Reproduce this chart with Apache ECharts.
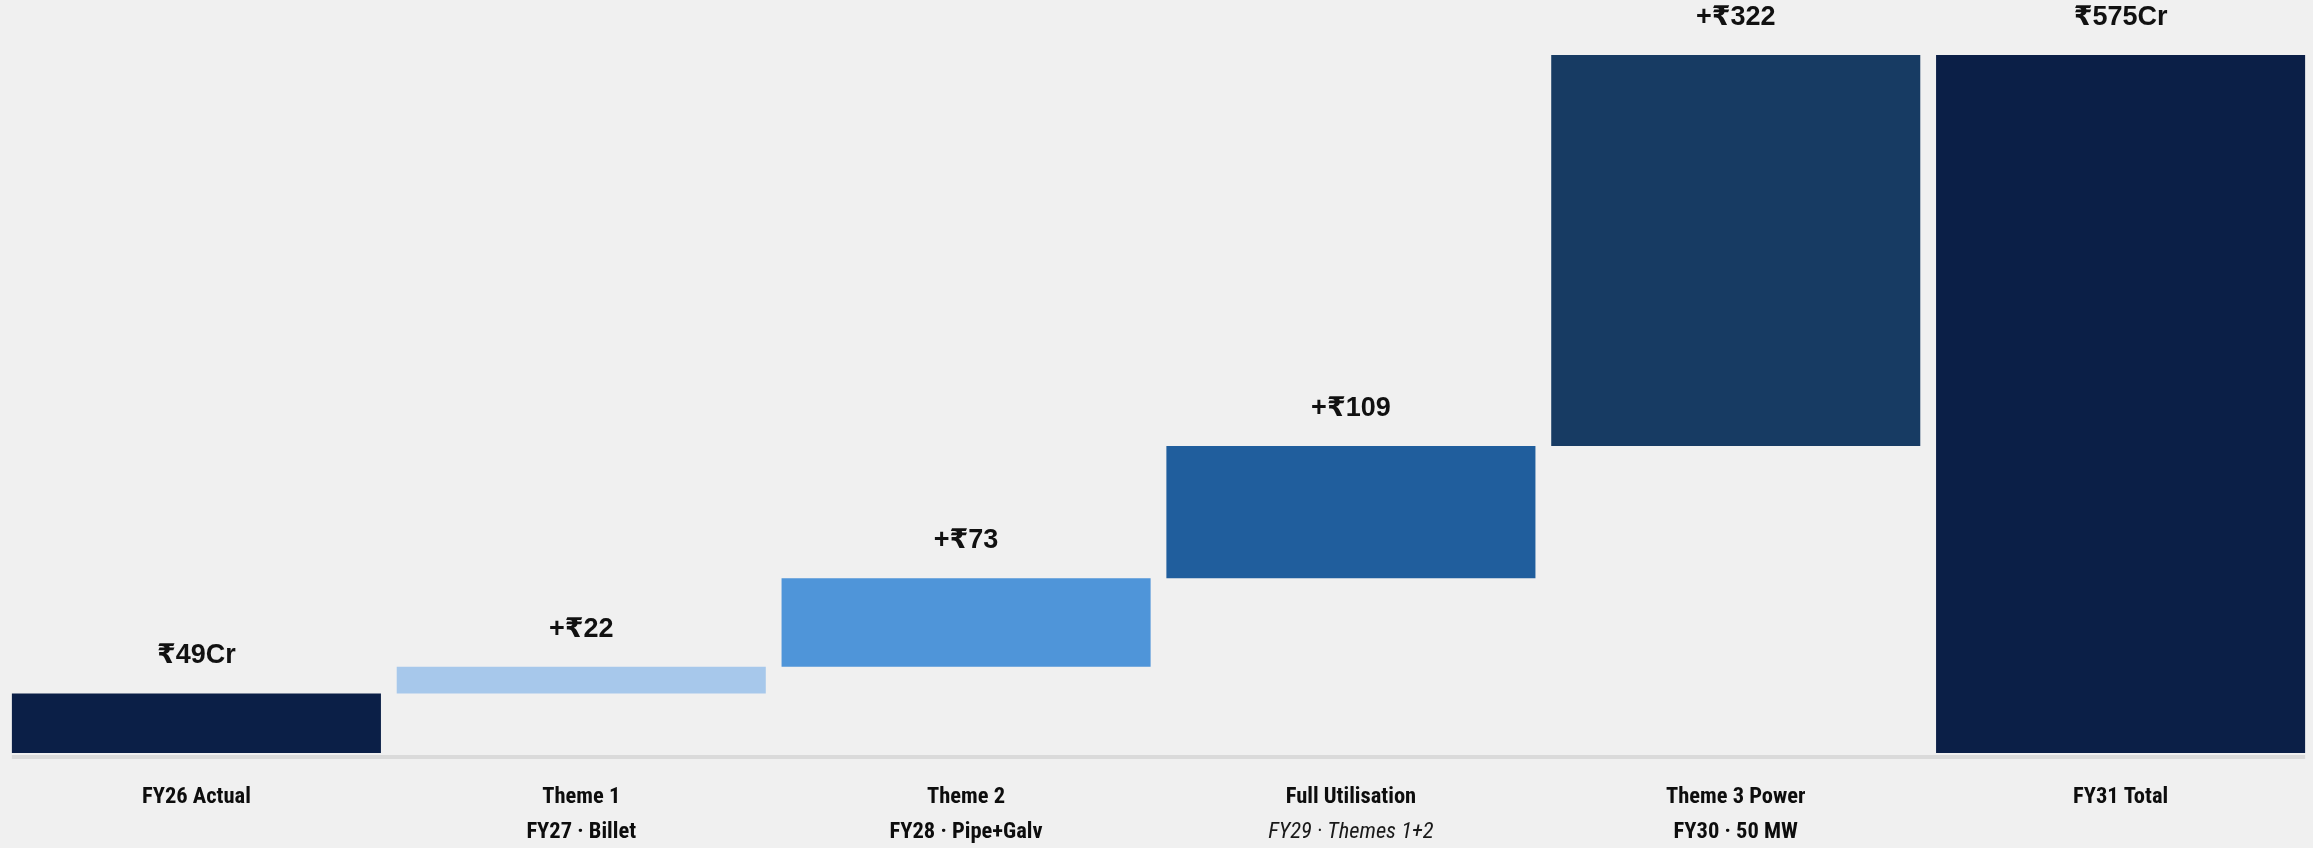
<!DOCTYPE html>
<html>
<head>
<meta charset="utf-8">
<script src="https://cdn.jsdelivr.net/npm/echarts@6/dist/echarts.min.js"></script>
<style>
  html, body { margin: 0; padding: 0; background: #f0f0f0; }
  #chart { width: 2313px; height: 848px; }
</style>
</head>
<body>
<div id="chart"></div>
<script>
// Revenue bridge, FY26 actual to FY31 total (₹ Cr)
const categories = ['FY26 Actual', 'Theme 1', 'Theme 2', 'Full Utilisation', 'Theme 3 Power', 'FY31 Total'];
const subLabels = ['', 'FY27 · Billet', 'FY28 · Pipe+Galv', 'FY29 · Themes 1+2', 'FY30 · 50 MW', ''];
const italicSub = [false, false, false, true, false, false];
const stepValues = [49, 22, 73, 109, 322, 575];
const isTotal = [true, false, false, false, false, true];
const barColors = ['#0b1f47', '#a7c8eb', '#4f95d9', '#205e9d', '#173b63', '#0b1f47'];

// invisible offsets that lift each increment onto the running total
const baseValues = [];
let running = 0;
stepValues.forEach((v, i) => {
  if (isTotal[i]) { baseValues.push(0); running = v; }
  else { baseValues.push(running); running += v; }
});

const valueText = (v, i) => isTotal[i] ? '₹' + v + 'Cr' : '+₹' + v;

const chart = echarts.init(document.getElementById('chart'));
const catFont = '"Roboto Condensed", "Liberation Sans Narrow", Roboto, sans-serif';

chart.setOption({
  backgroundColor: '#f0f0f0',
  animation: false,
  grid: { left: 4, right: 0, top: 55, bottom: 95 },
  xAxis: {
    type: 'category',
    data: categories,
    axisLine: { show: false },
    axisTick: { show: false },
    axisLabel: {
      interval: 0,
      margin: 27,
      formatter: (val, idx) => {
        const sub = subLabels[idx];
        if (!sub) return '{t|' + val + '}';
        return '{t|' + val + '}\n{' + (italicSub[idx] ? 'i' : 's') + '|' + sub + '}';
      },
      rich: {
        t: { fontFamily: catFont, fontWeight: 'bold', fontSize: 22.5, lineHeight: 35, color: '#0d0d0d' },
        s: { fontFamily: catFont, fontWeight: 'bold', fontSize: 22.5, lineHeight: 35, color: '#0d0d0d' },
        i: { fontFamily: catFont, fontStyle: 'italic', fontWeight: 'normal', fontSize: 22.5, lineHeight: 35, color: '#1a1a1a' }
      }
    }
  },
  yAxis: {
    type: 'value',
    min: 0,
    max: 575,
    show: false,
    splitLine: { show: false }
  },
  series: [
    {
      type: 'bar',
      stack: 'bridge',
      silent: true,
      barCategoryGap: '4.1%',
      itemStyle: { color: 'transparent' },
      data: baseValues
    },
    {
      type: 'bar',
      stack: 'bridge',
      barCategoryGap: '4.1%',
      data: stepValues.map((v, i) => ({ value: v, itemStyle: { color: barColors[i] } })),
      label: {
        show: true,
        position: 'top',
        distance: 24,
        fontFamily: '"Liberation Sans", Arial, "DejaVu Sans", sans-serif',
        fontWeight: 'bold',
        fontSize: 27,
        lineHeight: 27,
        color: '#111111',
        formatter: p => valueText(p.value, p.dataIndex)
      }
    }
  ]
});

// baseline drawn just under the bars, spanning the outer bar edges
const zeroY = chart.convertToPixel({ yAxisIndex: 0 }, 0);
const firstX = chart.convertToPixel({ xAxisIndex: 0 }, 0);
const lastX = chart.convertToPixel({ xAxisIndex: 0 }, categories.length - 1);
const step = (lastX - firstX) / (categories.length - 1);
const halfBar = step * (1 - 0.041) / 2;
chart.setOption({
  graphic: [{
    type: 'line',
    shape: { x1: firstX - halfBar, y1: zeroY + 4, x2: lastX + halfBar, y2: zeroY + 4 },
    style: { stroke: '#dadada', lineWidth: 4 },
    silent: true
  }]
});
</script>
</body>
</html>
